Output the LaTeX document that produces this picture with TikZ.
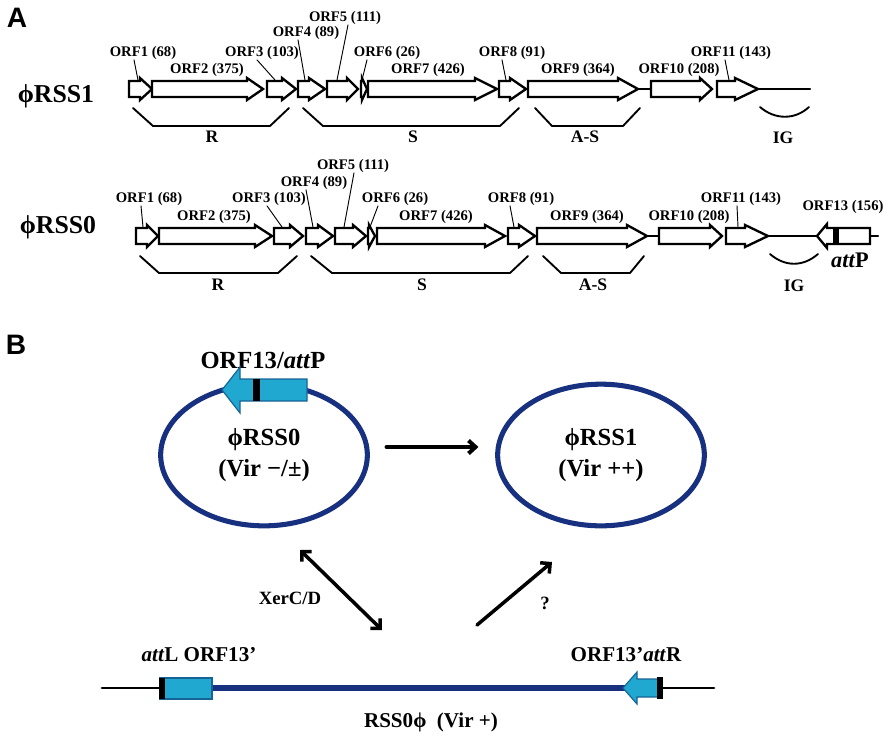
\documentclass[tikz,border=0pt]{standalone}
\usepackage{fontspec}
\setmainfont{Liberation Serif}
\newfontfamily\panelfont{Liberation Sans}
\usetikzlibrary{arrows.meta,shapes.geometric}

\definecolor{ringblue}{RGB}{24,48,128}
\definecolor{genefill}{RGB}{32,168,208}
\definecolor{genedraw}{RGB}{22,100,150}

% one open reading frame: left end, head start, tip, middle of the row
\newcommand{\orf}[4]{%
  \draw[orf] (#1,#4-8) -- (#2,#4-8) -- (#2,#4-11) -- (#3,#4) -- (#2,#4+11) -- (#2,#4+8) -- (#1,#4+8) -- cycle;}

\begin{document}
\begin{tikzpicture}[x=0.03cm,y=-0.03cm,line cap=round,line join=round,
  orf/.style={draw,fill=white,line width=2pt,line join=miter},
  bb/.style={line width=2pt},
  leader/.style={line width=0.8pt},
  brk/.style={line width=1.6pt},
  lab/.style={inner sep=0pt,font=\fontsize{12.5}{14}\selectfont\bfseries},
  grp/.style={inner sep=0pt,font=\fontsize{15}{18}\selectfont\bfseries},
  phage/.style={inner sep=0pt,font=\fontsize{22}{26}\selectfont\bfseries},
  panel/.style={inner sep=0pt,font=\fontsize{24}{28}\panelfont\bfseries},
  ring/.style={ellipse,draw=ringblue,line width=4.3pt,minimum width=6.2cm,minimum height=4.25cm,
    align=center,font=\fontsize{21}{26}\selectfont\bfseries},
  gene/.style={fill=genefill,draw=genedraw,line width=1pt,line join=miter},
  fat/.style={line width=3.4pt,-{Straight Barb[length=6pt,width=11pt]}},
  diag/.style={line width=3pt},
  mid/.style={inner sep=0pt,font=\fontsize{16}{19}\selectfont\bfseries},
  big/.style={inner sep=0pt,font=\fontsize{18}{22}\selectfont\bfseries},
  host/.style={line width=2.4pt},
  prophage/.style={draw=ringblue,line width=5pt,line cap=butt}]
\useasboundingbox (0,0) rectangle (892,743);

%%% A
\node[panel] (pa) at (17,18) {A};
\node[phage] (row1) at (56,96) {ϕRSS1};
\draw[bb] (638,89) -- (651,89) (758,89) -- (810,89);
\orf{129}{140}{152}{89}
\orf{152}{247}{263}{89}
\orf{267}{282}{296}{89}
\orf{298}{309}{325}{89}
\orf{327}{347}{358}{89}
\orf{361}{362}{367}{89}
\orf{368}{475}{497}{89}
\orf{499}{510}{526}{89}
\orf{528}{618}{638}{89}
\orf{651}{700}{712}{89}
\orf{717}{735}{758}{89}
\node[lab] (a1) at (143,53) {ORF1 (68)};
\node[lab] (a2) at (207,70) {ORF2 (375)};
\node[lab] (a3) at (262,53) {ORF3 (103)};
\node[lab] (a4) at (306,33) {ORF4 (89)};
\node[lab] (a5) at (345,18) {ORF5 (111)};
\node[lab] (a6) at (387,53) {ORF6 (26)};
\node[lab] (a7) at (428,70) {ORF7 (426)};
\node[lab] (a8) at (512,53) {ORF8 (91)};
\node[lab] (a9) at (578,70) {ORF9 (364)};
\node[lab] (a10) at (679,70) {ORF10 (208)};
\node[lab] (a11) at (731,53) {ORF11 (143)};
\draw[leader] (a1.south) ++(-9,0) -- (138,80);
\draw[leader] (a3.south) ++(-5,0) -- (275,80);
\draw[leader] (a4.south) ++(-8,0) -- (305,80);
\draw[leader] (a5.south) ++(3,0) -- (337,80);
\draw[leader] (a6.south) ++(-20,0) -- (362,80);
\draw[leader] (a8.south) ++(-10,0) -- (506,80);
\draw[leader] (a11.south) ++(-6,0) -- (729,80);
\draw[brk] (133,108) -- (153,126) -- (270,126) -- (289,108);
\draw[brk] (303,108) -- (323,126) -- (500,126) -- (519,108);
\draw[brk] (535,108) -- (552,126) -- (623,126) -- (640,108);
\draw[brk] (760,107) .. controls (775,120) and (795,120) .. (809,107);
\node[grp] (r1) at (212,137) {R};
\node[grp] (s1) at (413,137) {S};
\node[grp] (as1) at (585,137) {A-S};
\node[grp] (ig1) at (783,138) {IG};

\node[phage] (row0) at (58,227) {ϕRSS0};
\draw[bb] (647,236) -- (659,236) (768,236) -- (817,236) (870,236) -- (878,236);
\orf{136}{147}{158}{236}
\orf{159}{255}{272}{236}
\orf{274}{290}{303}{236}
\orf{306}{318}{333}{236}
\orf{335}{353}{366}{236}
\orf{368}{369}{375}{236}
\orf{377}{485}{505}{236}
\orf{508}{519}{535}{236}
\orf{537}{627}{647}{236}
\orf{659}{710}{722}{236}
\orf{726}{745}{768}{236}
\draw[orf] (870,228) -- (827,228) -- (827,224) -- (817,236) -- (827,248) -- (827,244) -- (870,244) -- cycle;
\fill (833,228) rectangle (839,244);
\node[lab] (b1) at (149,199) {ORF1 (68)};
\node[lab] (b2) at (214,217) {ORF2 (375)};
\node[lab] (b3) at (269,199) {ORF3 (103)};
\node[lab] (b4) at (314,183) {ORF4 (89)};
\node[lab] (b5) at (353,166) {ORF5 (111)};
\node[lab] (b6) at (395,199) {ORF6 (26)};
\node[lab] (b7) at (436,217) {ORF7 (426)};
\node[lab] (b8) at (521,199) {ORF8 (91)};
\node[lab] (b9) at (587,217) {ORF9 (364)};
\node[lab] (b10) at (689,217) {ORF10 (208)};
\node[lab] (b11) at (741,199) {ORF11 (143)};
\node[lab] (b13) at (843,207) {ORF13 (156)};
\draw[leader] (b1.south) ++(-8,0) -- (143,227);
\draw[leader] (b3.south) ++(-2,0) -- (282,227);
\draw[leader] (b4.south) ++(-8,0) -- (313,227);
\draw[leader] (b5.south) ++(1,0) -- (344,227);
\draw[leader] (b6.south) ++(-17,0) -- (370,227);
\draw[leader] (b8.south) ++(-11,0) -- (514,227);
\draw[leader] (b11.south) ++(-4,0) -- (738,227);
\draw[brk] (140,256) -- (159,273) -- (278,273) -- (297,256);
\draw[brk] (311,256) -- (332,273) -- (510,273) -- (528,256);
\draw[brk] (543,256) -- (561,273) -- (630,273) -- (644,256);
\draw[brk] (770,254) .. controls (785,267) and (803,267) .. (818,254);
\node[grp] (r0) at (218,285) {R};
\node[grp] (s0) at (422,285) {S};
\node[grp] (as0) at (593,285) {A-S};
\node[grp] (ig0) at (794,286) {IG};
\node[inner sep=0pt,font=\fontsize{19}{22}\selectfont\bfseries] (attp) at (850,260) {\textit{att}P};

%%% B
\node[panel] (pb) at (16,345) {B};
\node[ring] (rss0) at (264,455) {ϕRSS0\\(Vir −/±)};
\node[ring] (rss1) at (601,455) {ϕRSS1\\(Vir ++)};
\node[inner sep=0pt,font=\fontsize{21}{25}\selectfont\bfseries] (orf13) at (263,360) {ORF13/\textit{att}P};
\filldraw[gene] (307,379) -- (240,379) -- (240,367) -- (222,390) -- (240,413) -- (240,401) -- (307,401) -- cycle;
\fill (253,379) rectangle (260,401);
\draw[fat] ([yshift=0.24cm]rss0.east) -- ([yshift=0.24cm]rss1.west)
  [shorten <=0.5cm,shorten >=0.5cm];

\coordinate (xtop) at (300,550);
\coordinate (xbot) at (382,630);
\coordinate (qbot) at (477,625);
\coordinate (qtop) at (552,562);
\draw[diag,{Straight Barb[length=6pt,width=12pt]}-{Straight Barb[length=6pt,width=12pt]}] (xtop) -- (xbot);
\draw[diag,-{Straight Barb[length=6pt,width=12pt]}] (qbot) -- (qtop);
\node[mid] (xer) at (290,598) {XerC/D};
\node[mid] (qm) at (545,603) {?};

\draw[host] (102,688) -- (160,688) (662,688) -- (714,688);
\draw[prophage] (212,688) -- (625,688);
\filldraw[gene] (160,678) rectangle (212,699);
\fill (159,678) rectangle (165,699);
\filldraw[gene] (660,679) -- (637,679) -- (637,672) -- (623,688) -- (637,704) -- (637,697) -- (660,697) -- cycle;
\fill (657,677) rectangle (663,699);
\node[big] (attl) at (199,655) {\textit{att}L ORF13’};
\node[big] (attr) at (626,655) {ORF13’\textit{att}R};
\node[big] (lyso) at (431,722) {RSS0ϕ\ \ (Vir +)};
\end{tikzpicture}
\end{document}
